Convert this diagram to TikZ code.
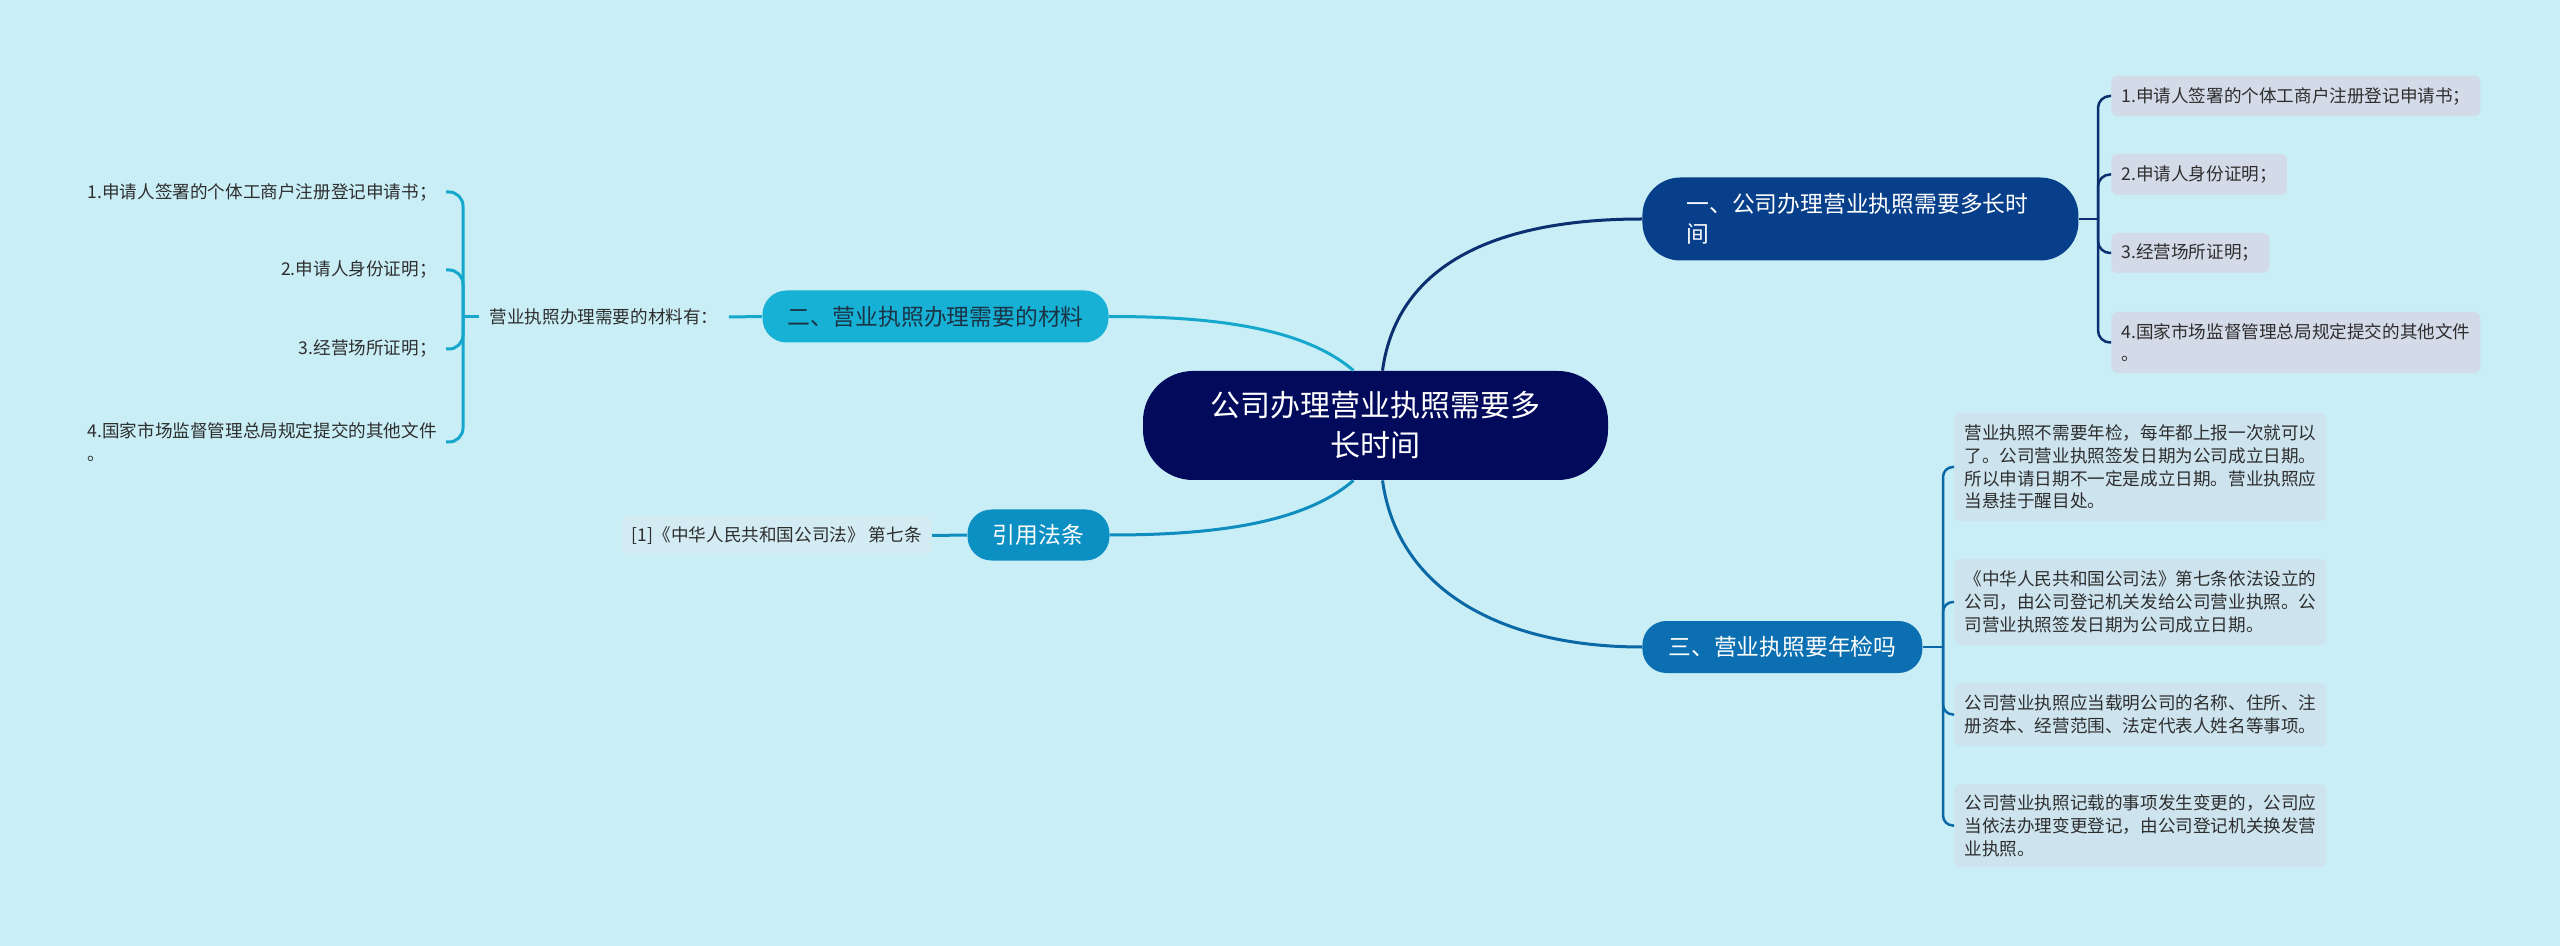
\documentclass[tikz,border=0pt]{standalone}
\usepackage{fontspec}
\setmainfont{Noto Sans CJK SC}
\usetikzlibrary{calc}
\definecolor{bg}{HTML}{C9EEF6}
\definecolor{cnavy}{HTML}{020A5C}
\definecolor{cOne}{HTML}{073F8B}
\definecolor{lOne}{HTML}{0B2F70}
\definecolor{cThree}{HTML}{0B6FB1}
\definecolor{lThree}{HTML}{0A68A6}
\definecolor{cTwo}{HTML}{17B1D5}
\definecolor{lTwo}{HTML}{16A7CC}
\definecolor{tTwo}{HTML}{1A3446}
\definecolor{cRef}{HTML}{0C90C4}
\definecolor{lRef}{HTML}{108DBF}
\definecolor{leafA}{HTML}{D3DAE8}
\definecolor{leafB}{HTML}{CDE4EF}
\definecolor{leafR}{HTML}{D3EBF2}
\definecolor{txt}{HTML}{2E2E2E}
\tikzset{
  centralbox/.style={fill=cnavy, text=white, rounded corners=25pt, minimum width=232.5pt,
    minimum height=54.5pt, align=center, inner sep=0pt, font=\fontsize{15}{20}\selectfont},
  topicbox/.style={rounded corners=12pt, minimum height=26pt, inner sep=0pt, align=center,
    font=\fontsize{11.4}{15}\selectfont},
  leafbox/.style={rounded corners=3pt, inner xsep=5pt, inner ysep=0pt, align=left, text=txt,
    font=\fontsize{8.8}{11.4}\selectfont},
  plainleaf/.style={inner xsep=4.5pt, inner ysep=0pt, align=left, text=txt,
    font=\fontsize{8.8}{11.4}\selectfont},
  mainlink/.style={line width=1.5pt},
  bracketlink/.style={line width=1.25pt}
}
\begin{document}
\begin{tikzpicture}[x=0.5pt,y=-0.5pt]
\fill[bg] (0,0) rectangle (2560,946);
\useasboundingbox (0,0) rectangle (2560,946);

% central
\node[centralbox] (c) at (1375.5,425.5) {公司办理营业执照需要多\\长时间};

% main topics
\node[topicbox, fill=cOne, text=white, anchor=west, align=left, text width=174pt,
  inner xsep=22pt, minimum height=41.5pt, rounded corners=19pt] (n1) at (1642,219)
  {一、公司办理营业执照需要多长时\\间};
\node[topicbox, fill=cThree, text=white, anchor=west, minimum width=140pt] (n3) at (1642,647)
  {三、营业执照要年检吗};
\node[topicbox, fill=cTwo, text=tTwo, minimum width=173pt] (n2) at (935.5,316.5)
  {二、营业执照办理需要的材料};
\node[topicbox, fill=cRef, text=white, minimum width=71pt, minimum height=25.5pt] (n4) at (1038.5,535)
  {引用法条};

% leaves of topic 1
\node[leafbox, fill=leafA, anchor=west, minimum height=20pt] (a1) at (2111,96)
  {1.申请人签署的个体工商户注册登记申请书；};
\node[leafbox, fill=leafA, anchor=west, minimum height=20.5pt] (a2) at (2111,174.5)
  {2.申请人身份证明；};
\node[leafbox, fill=leafA, anchor=west, minimum height=20pt] (a3) at (2111,253)
  {3.经营场所证明；};
\node[leafbox, fill=leafA, anchor=west, minimum height=30.5pt] (a4) at (2111,342.5)
  {4.国家市场监督管理总局规定提交的其他文件\\。};

% leaves of topic 3
\node[leafbox, fill=leafB, anchor=west, minimum height=54pt] (b1) at (1954,467)
  {营业执照不需要年检，每年都上报一次就可以\\了。公司营业执照签发日期为公司成立日期。\\所以申请日期不一定是成立日期。营业执照应\\当悬挂于醒目处。};
\node[leafbox, fill=leafB, anchor=west, minimum height=43pt] (b2) at (1954,602)
  {《中华人民共和国公司法》第七条依法设立的\\公司，由公司登记机关发给公司营业执照。公\\司营业执照签发日期为公司成立日期。};
\node[leafbox, fill=leafB, anchor=west, minimum height=31.5pt] (b3) at (1954,714.5)
  {公司营业执照应当载明公司的名称、住所、注\\册资本、经营范围、法定代表人姓名等事项。};
\node[leafbox, fill=leafB, anchor=west, minimum height=41.5pt] (b4) at (1954,825.5)
  {公司营业执照记载的事项发生变更的，公司应\\当依法办理变更登记，由公司登记机关换发营\\业执照。};

% topic 2 subtree
\node[plainleaf, inner xsep=5pt] (m) at (604,317) {营业执照办理需要的材料有：};
\node[plainleaf, anchor=east] (l1) at (446,192) {1.申请人签署的个体工商户注册登记申请书；};
\node[plainleaf, anchor=east] (l2) at (446,270) {2.申请人身份证明；};
\node[plainleaf, anchor=east] (l3) at (446,349) {3.经营场所证明；};
\node[plainleaf, anchor=east] (l4) at (446,442) {4.国家市场监督管理总局规定提交的其他文件\\。};

% reference subtree
\node[leafbox, fill=leafR, anchor=east, minimum height=19.5pt] (r) at (932,535.5)
  {[1]《中华人民共和国公司法》 第七条};

% central links
\draw[mainlink, lOne] ($(c.north)+(7,0)$) .. controls ($(c.north)+(22,-110)$) and ($(n1.west)+(-140,0)$) .. (n1.west);
\draw[mainlink, lThree] ($(c.south)+(7,0)$) .. controls ($(c.south)+(22,110)$) and ($(n3.west)+(-140,0)$) .. (n3.west);
\draw[mainlink, lTwo] ($(c.north)+(-22,0)$) .. controls ($(c.north)+(-75,-46)$) and ($(n2.east)+(92,0)$) .. (n2.east);
\draw[mainlink, lRef] ($(c.south)+(-22,0)$) .. controls ($(c.south)+(-75,46)$) and ($(n4.east)+(92,0)$) .. (n4.east);

% bracket topic 1
\coordinate (j1) at (2098,219);
\draw[bracketlink, lOne] (n1.east) -- (j1);
\foreach \k in {a1,a2,a3,a4}
  \draw[bracketlink, lOne, rounded corners=6pt] (j1) |- (\k.west);

% bracket topic 3
\coordinate (j3) at (1943,647);
\draw[bracketlink, lThree] (n3.east) -- (j3);
\foreach \k in {b1,b2,b3,b4}
  \draw[bracketlink, lThree, rounded corners=5pt] (j3) |- (\k.west);

% bracket topic 2
\coordinate (jL) at (463,317);
\draw[mainlink, lTwo] (n2.west) -- (m.east);
\draw[mainlink, lTwo] (m.west) -- (jL);
\foreach \k in {l1,l2,l3,l4}
  \draw[mainlink, lTwo, rounded corners=7pt] (jL) |- (\k.east);

% reference link
\draw[mainlink, lRef] (n4.west) -- (r.east);
\end{tikzpicture}
\end{document}
